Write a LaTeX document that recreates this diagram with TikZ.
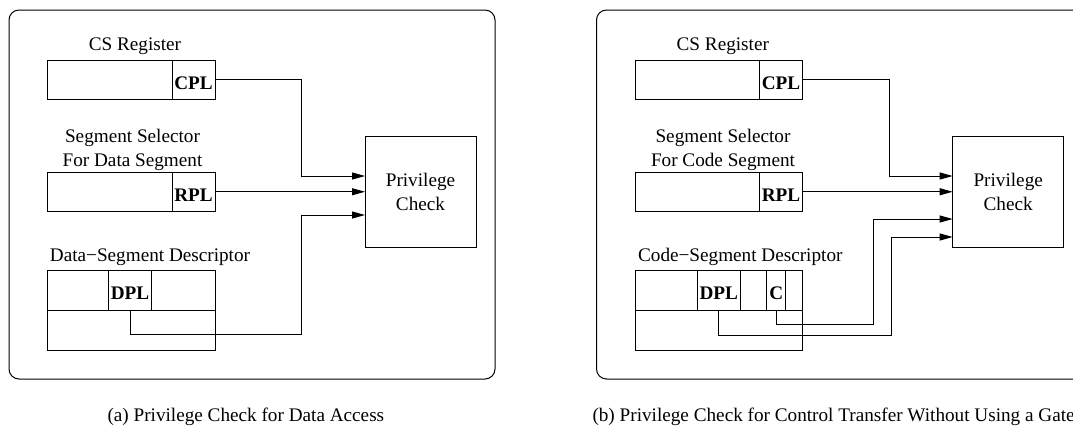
\documentclass[tikz,border=0pt]{standalone}
\usepackage{fontspec}
\setmainfont{Liberation Serif}
\usetikzlibrary{arrows.meta}

\newcommand{\diafont}{\fontsize{9.6}{12}\selectfont}

\tikzset{
  panel/.style={draw, rounded corners=5pt},
  regbox/.style={draw, inner sep=0pt, outer sep=0pt, minimum width=83.75pt, minimum height=19.75pt, anchor=north west},
  field/.style={draw, inner sep=0pt, outer sep=0pt, minimum width=21.5pt, minimum height=19.75pt, text height=9.5pt, font=\diafont\bfseries, anchor=north west},
  checkbox/.style={draw, inner sep=0pt, outer sep=0pt, minimum width=55.5pt, minimum height=55.5pt, align=center, font=\diafont, anchor=north west},
  lbl/.style={inner sep=0pt, font=\diafont, anchor=base},
  link/.style={-{Triangle[length=6.5pt,width=3.5pt]}},
}

\begin{document}
\begin{tikzpicture}[x=0.5pt, y=-0.5pt, line width=0.5pt]

	\useasboundingbox (0,0) rectangle (1073,425);

	% (a) data access
	\draw[panel] (9,10) rectangle (495,379);

	\node[lbl] (acslbl) at (135,50) {CS Register};
	\node[regbox] (acs) at (47.5,60) {};
	\node[field, anchor=north east] (acpl) at (acs.north east) {CPL};

	\node[lbl, align=center, anchor=center] (asellbl) at (132.5,150) {Segment Selector\\For Data Segment};
	\node[regbox] (asel) at (47.5,172) {};
	\node[field, anchor=north east] (arpl) at (asel.north east) {RPL};

	\node[lbl] (adesclbl) at (150,261) {Data−Segment Descriptor};
	\node[regbox, minimum height=20pt] (adesctop) at (47.5,270) {};
	\node[regbox, minimum height=20pt] (adescbot) at (47.5,310) {};
	\node[field, minimum height=20pt] (adpl) at (108.5,270) {DPL};

	\node[checkbox] (acheck) at (365,136.5) {Privilege\\Check};
	\coordinate (acpin) at ([yshift=8pt]acheck.west);
	\coordinate (adpin) at ([yshift=-11.5pt]acheck.west);

	\draw[link] (acpl.east) -| (301.5,176) -- (acpin);
	\draw[link] (arpl.east) -- (arpl.east -| acheck.west);
	\draw[link] (adpl.south) |- (301.5,334) |- (adpin);

	\node[lbl, anchor=base west] (acap) at (107,421) {(a) Privilege Check for Data Access};

	% (b) control transfer without a gate
	\draw[panel] (596.5,10) rectangle (1083,379);

	\node[lbl] (bcslbl) at (722.8,50) {CS Register};
	\node[regbox] (bcs) at (635,60) {};
	\node[field, anchor=north east] (bcpl) at (bcs.north east) {CPL};

	\node[lbl, align=center, anchor=center] (bsellbl) at (723,150) {Segment Selector\\For Code Segment};
	\node[regbox] (bsel) at (635,172) {};
	\node[field, anchor=north east] (brpl) at (bsel.north east) {RPL};

	\node[lbl] (bdesclbl) at (740.3,261) {Code−Segment Descriptor};
	\node[regbox, minimum height=20pt] (bdesctop) at (635,270) {};
	\node[regbox, minimum height=20pt] (bdescbot) at (635,310) {};
	\node[field, minimum height=20pt] (bdpl) at (697.3,270) {DPL};
	\node[field, minimum height=20pt, minimum width=9.5pt] (bc) at (766.7,270) {C};

	\node[checkbox] (bcheck) at (952.7,136.5) {Privilege\\Check};
	\coordinate (bcpin) at ([yshift=8pt]bcheck.west);
	\coordinate (bcin) at ([yshift=-13.5pt]bcheck.west);
	\coordinate (bdpin) at ([yshift=-22.5pt]bcheck.west);

	\draw[link] (bcpl.east) -| (889.3,176) -- (bcpin);
	\draw[link] (brpl.east) -- (brpl.east -| bcheck.west);
	\draw[link] (bc.south) |- (873.3,324) |- (bcin);
	\draw[link] (bdpl.south) |- (891.3,335) |- (bdpin);

	\node[lbl, anchor=base west] (bcap) at (592,421) {(b) Privilege Check for Control Transfer Without Using a Gate};

\end{tikzpicture}
\end{document}
